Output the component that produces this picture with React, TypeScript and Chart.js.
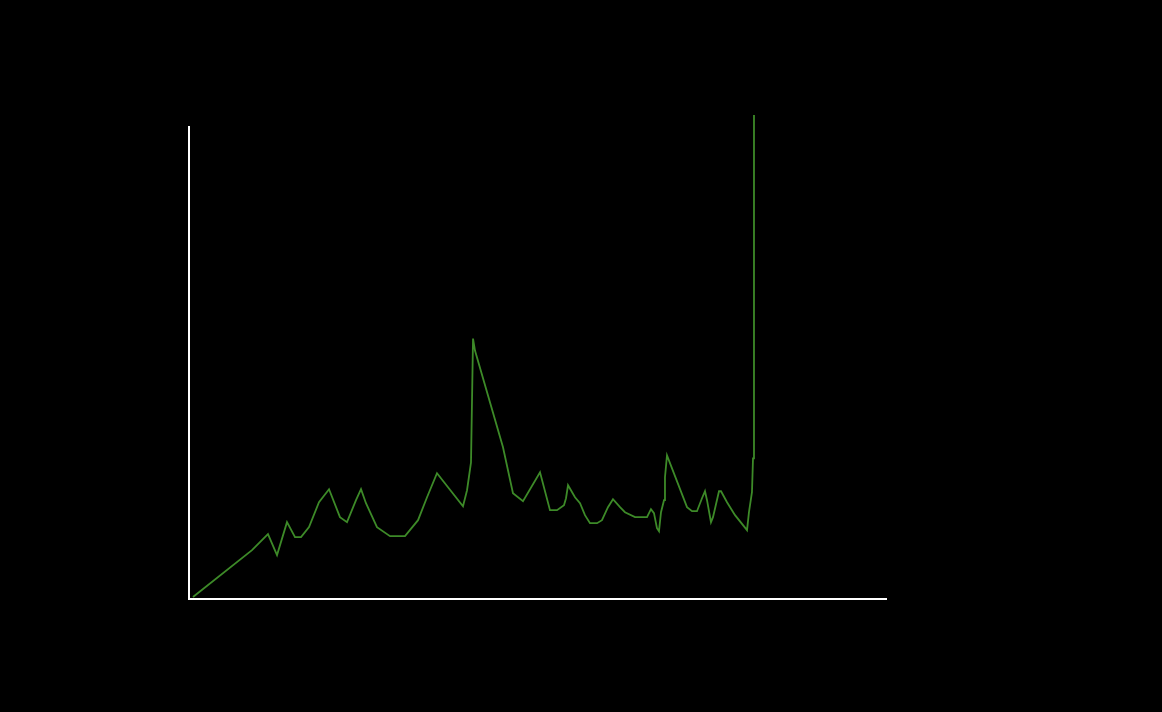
import React, { useEffect, useRef } from "react";
import { Chart, registerables } from "chart.js";

Chart.register(...registerables);

// x positions (data units, axis 0..100) and values (axis 0..100)
const xValues: number[] = [
  0.57, 9.04, 11.33, 12.63, 14.06, 15.21, 16.07, 17.22, 18.65, 20.09,
  21.66, 22.67, 23.96, 24.68, 25.39, 26.97, 28.84, 30.99, 32.86, 34.15,
  35.58, 39.31, 39.89, 40.46, 40.75, 41.03, 45.05, 46.48, 47.92, 50.36,
  51.79, 52.8, 53.8, 54.09, 54.38, 55.38, 56.1, 56.81, 57.53, 58.54,
  59.25, 60.11, 60.83, 61.84, 62.55, 63.99, 65.71, 66.28, 66.71, 67.14,
  67.43, 67.72, 68.15, 68.29, 68.58, 71.45, 72.17, 72.88, 73.6, 74.03,
  74.32, 74.89, 75.18, 76.04, 76.33, 77.19, 78.34, 80.06, 80.34, 80.77,
  80.92, 81.06,
];

const yValues: number[] = [
  0.42, 10.36, 13.74, 9.3, 16.28, 13.11, 13.11, 15.22, 20.51, 23.26,
  17.34, 16.28, 20.93, 23.26, 20.3, 15.22, 13.32, 13.32, 16.7, 21.56,
  26.64, 19.66, 23.04, 28.96, 55.18, 52.64, 32.14, 22.41, 20.72, 26.85,
  18.82, 18.82, 19.87, 21.35, 24.1, 21.56, 20.3, 17.76, 16.07, 16.07,
  16.7, 19.45, 21.14, 19.45, 18.39, 17.34, 17.34, 19.03, 18.18, 15.01,
  14.38, 18.39, 20.93, 25.79, 30.44, 19.45, 18.6, 18.6, 21.35, 22.83,
  20.93, 16.28, 17.34, 22.83, 22.83, 20.51, 17.76, 14.59, 18.39, 22.62,
  29.81, 102.54,
];

const X_MIN = 0;
const X_MAX = 100;
const Y_MIN = 0;
const Y_MAX = 100;

export default function App() {
  const ref = useRef<HTMLCanvasElement | null>(null);

  useEffect(() => {
    document.body.style.margin = "0";
    document.body.style.background = "#000";
    const canvas = ref.current;
    if (!canvas) return;
    const points = xValues.map((x, i) => ({ x, y: yValues[i] }));
    const chart = new Chart(canvas, {
      type: "line",
      data: {
        datasets: [
          {
            data: points,
            borderColor: "#3d8a28",
            borderWidth: 1.8,
            pointRadius: 0,
            tension: 0,
            fill: false,
            clip: false as any,
          },
        ],
      },
      options: {
        responsive: false,
        animation: false,
        layout: { padding: { left: 181, top: 127, right: 276, bottom: 105 } },
        plugins: {
          legend: { display: false },
          tooltip: { enabled: false },
          title: { display: false },
        },
        scales: {
          x: {
            type: "linear",
            min: X_MIN,
            max: X_MAX,
            ticks: { display: false },
            grid: { display: false },
            border: { display: true, color: "#ffffff", width: 2 },
          },
          y: {
            type: "linear",
            min: Y_MIN,
            max: Y_MAX,
            ticks: { display: false },
            grid: { display: false },
            border: { display: true, color: "#ffffff", width: 2 },
          },
        },
      },
    });
    return () => chart.destroy();
  }, []);

  return (
    <div style={{ width: 1162, height: 712, background: "#000", position: "relative" }}>
      <canvas ref={ref} width={1162} height={712} style={{ display: "block" }} />
    </div>
  );
}
